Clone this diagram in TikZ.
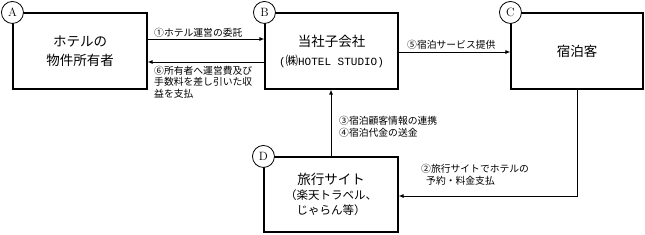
\documentclass[tikz,border=0pt]{standalone}
\usepackage{fontspec}
\newfontfamily\jp{Noto Sans CJK JP}
\newfontfamily\mono{Liberation Mono}
\usetikzlibrary{arrows.meta}
\tikzset{
  box/.style={draw, line width=1.1pt, inner sep=0pt, align=center,
    font=\jp\fontsize{13.5}{19}\selectfont},
  circ/.style={draw, fill=white, circle, line width=0.8pt, inner sep=0pt,
    minimum size=22pt, font=\fontsize{12}{12}\selectfont},
  arr/.style={line width=1pt, -{Latex[length=5pt,width=4pt]}},
  lbl/.style={inner sep=0pt, anchor=west, align=left,
    font=\jp\fontsize{9.8}{11.5}\selectfont}
}
\begin{document}
\begin{tikzpicture}[x=1pt,y=-1pt]
\useasboundingbox (0,0) rectangle (645,234);
% boxes
\node[box, minimum width=134pt, minimum height=76pt] (A) at (80,51) {ホテルの\\物件所有者};
\node[box, minimum width=133pt, minimum height=76pt] (B) at (331.5,51)
  {当社子会社\\{\mono\fontsize{11}{19}\selectfont(}{\fontsize{12.5}{19}\selectfont ㈱}{\mono\fontsize{11}{19}\selectfont HOTEL STUDIO)}};
\node[box, minimum width=132pt, minimum height=76pt] (C) at (577,51) {宿泊客};
\node[box, minimum width=134pt, minimum height=75pt] (D) at (331,194.5)
  {旅行サイト\\[-4pt]{\fontsize{11.5}{14}\selectfont （楽天トラベル、}\\[-4pt]{\fontsize{11.5}{14}\selectfont じゃらん等）}};
% circles
\node[circ] (cA) at (A.north west) {A};
\node[circ] (cB) at (B.north west) {B};
\node[circ] (cC) at (C.north west) {C};
\node[circ] (cD) at (D.north west) {D};
% connectors
\draw[arr] ([yshift=12pt]A.east) -- ([yshift=12pt]B.west);
\draw[arr] ([yshift=-11pt]B.west) -- ([yshift=-11pt]A.east);
\draw[arr] ([yshift=-1pt]B.east) -- ([yshift=-1pt]C.west);
\draw[arr] (D.north) -- (D.north |- B.south);
\draw[arr] (C.south) |- ([yshift=-1.5pt]D.east);
% labels
\node[lbl] (l1) at (154,32.5) {①ホテル運営の委託};
\node[lbl] (l6) at (154,82) {⑥所有者へ運営費及び\\手数料を差し引いた収\\益を支払};
\node[lbl] (l5) at (407,45) {⑤宿泊サービス提供};
\node[lbl] (l34) at (339,127) {③宿泊顧客情報の連携\\④宿泊代金の送金};
\node[lbl] (l2) at (421,175) {②旅行サイトでホテルの\\\hspace{5pt}予約・料金支払};
\end{tikzpicture}
\end{document}
